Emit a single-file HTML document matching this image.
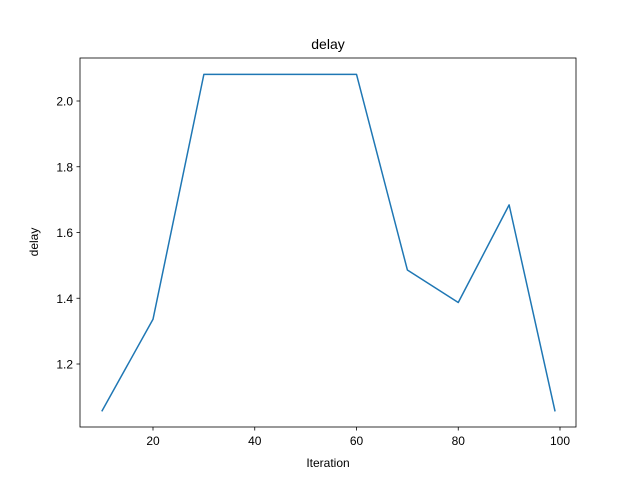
<!DOCTYPE html>
<html><head><meta charset="utf-8"><style>
body{margin:0;background:#fff;font-family:"Liberation Sans","DejaVu Sans",sans-serif}
</style></head><body>
<svg id="chart" width="640" height="480" xmlns="http://www.w3.org/2000/svg">
<rect width="640" height="480" fill="#fff"/>
<text x="328" y="49" font-size="14" text-anchor="middle">delay</text>
<g id="plot"></g>
<rect x="80" y="58" width="496" height="369" fill="none" stroke="#000" stroke-width="0.8"/>
<text x="328" y="467" font-size="12" text-anchor="middle">Iteration</text>
<text x="38" y="242" font-size="12" text-anchor="middle" transform="rotate(-90 38 242)">delay</text>
</svg>
<script>
const iterations=[10,20,30,40,50,60,70,80,90,99];
const delays=[1.058,1.336,2.081,2.081,2.081,2.081,1.486,1.387,1.684,1.058];
const xTicks=[20,40,60,80,100];
const yTicks=[1.2,1.4,1.6,1.8,2.0];
const NS="http://www.w3.org/2000/svg";
function xs(v){return 153+(v-20)*5.0875;}
function ys(v){return 101+(2.0-v)*328.75;}
const g=document.getElementById('plot');
function mk(t,a){const e=document.createElementNS(NS,t);for(const k in a)e.setAttribute(k,a[k]);g.appendChild(e);return e;}
xTicks.forEach(t=>{
 const l=mk('line',{x1:xs(t),x2:xs(t),y1:427,y2:430.5,stroke:'#000','stroke-width':0.8});
 
 
 const tx=mk('text',{x:xs(t),y:445,'font-size':12,'text-anchor':'middle'});tx.textContent=t;
 
 
});
yTicks.forEach(t=>{
 const l=mk('line',{x1:76.5,x2:80,y1:ys(t),y2:ys(t),stroke:'#000','stroke-width':0.8});
 
 
 const tx=mk('text',{x:73,y:ys(t)+4.5,'font-size':12,'text-anchor':'end'});tx.textContent=t.toFixed(1);
 
 
});
const pts=iterations.map((x,i)=>xs(x)+','+ys(delays[i])).join(' ');
const pl=mk('polyline',{points:pts,fill:'none',stroke:'#1f77b4','stroke-width':1.5,'stroke-linejoin':'round','stroke-linecap':'square'});


</script>
</body></html>
